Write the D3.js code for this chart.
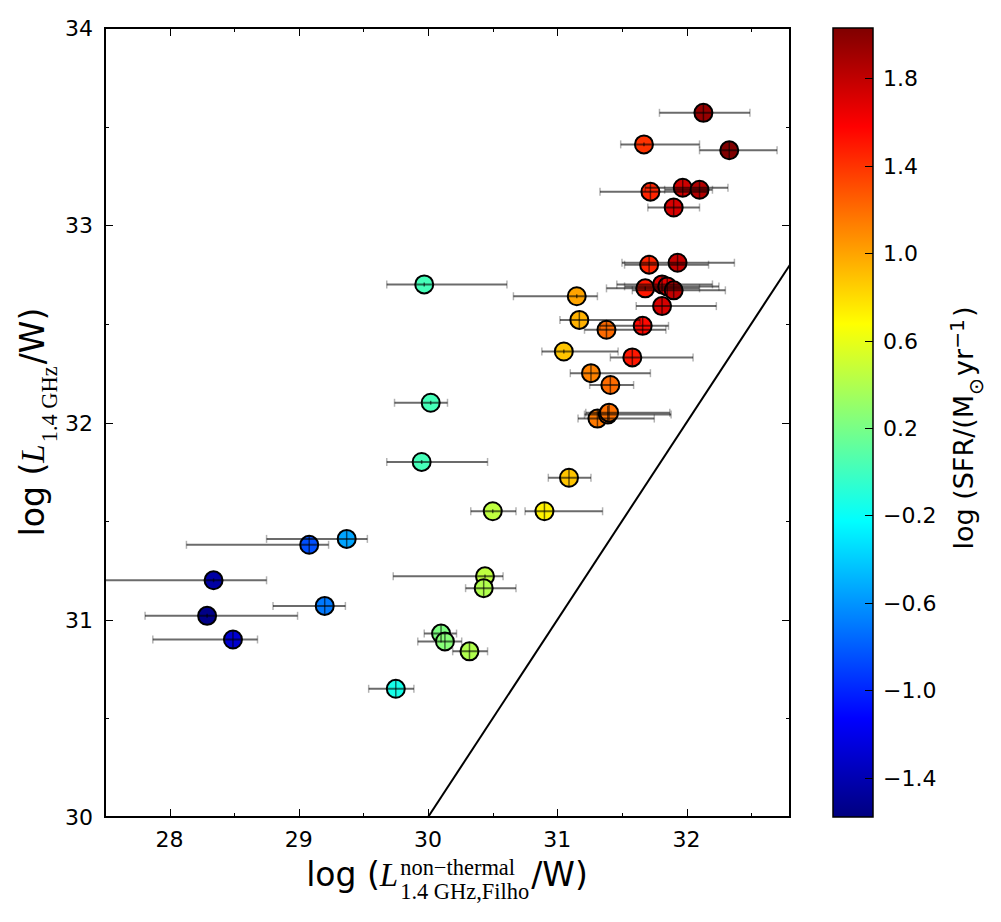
<!DOCTYPE html>
<html>
<head>
<meta charset="utf-8">
<script src="https://cdn.jsdelivr.net/npm/d3@7"></script>
<style>
  body { margin: 0; background: #fff; }
  svg text { font-family: "DejaVu Sans", sans-serif; }
</style>
</head>
<body>
<div id="chart"></div>
<script>
// data
var lumNT  = [32.13, 31.67, 32.33, 31.72, 31.97, 32.10, 31.90, 31.71, 31.93, 31.68, 31.81, 31.85, 31.90, 31.81,
              31.15, 31.17, 31.66, 31.38, 31.05, 31.58, 31.26, 31.41, 31.31, 31.39, 31.40, 31.09, 30.90, 30.50,
              30.44, 30.43, 30.10, 30.13, 30.32, 29.75, 29.97, 30.02, 29.95, 29.37, 29.08, 28.34, 29.20, 28.29, 28.49];
var lum14  = [33.57, 33.41, 33.38, 33.17, 33.19, 33.18, 33.09, 32.80, 32.81, 32.68, 32.70, 32.69, 32.67, 32.59,
              32.64, 32.52, 32.49, 32.47, 32.36, 32.33, 32.25, 32.19, 32.02, 32.04, 32.05, 31.72, 31.55, 31.55,
              31.22, 31.16, 30.93, 30.89, 30.84, 30.65, 32.70, 32.10, 31.80, 31.41, 31.38, 31.20, 31.07, 31.02, 30.90];
var errLo  = [31.79, 31.49, 32.10, 31.33, 31.68, 31.83, 31.70, 31.52, 31.50, 31.38, 31.46, 31.52, 31.58, 31.61,
              30.66, 31.02, 31.33, 31.21, 30.88, 31.41, 31.10, 31.25, 31.16, 31.21, 31.22, 30.93, 30.75, 30.33,
              29.73, 30.29, 29.97, 29.92, 30.19, 29.54, 29.68, 29.74, 29.68, 28.75, 28.13, 27.49, 28.80, 27.81, 27.87];
var errHi  = [32.49, 32.10, 32.70, 32.16, 32.32, 32.20, 32.10, 32.17, 32.37, 32.10, 32.20, 32.25, 32.30, 32.23,
              31.31, 31.64, 31.86, 31.84, 31.47, 32.05, 31.72, 31.59, 31.75, 31.88, 31.87, 31.26, 31.35, 30.68,
              30.58, 30.68, 30.22, 30.26, 30.46, 29.89, 30.61, 30.15, 30.46, 29.53, 29.23, 28.75, 29.36, 28.99, 28.68];
var yErr   = [0.045, 0.01, 0.045, 0.045, 0.045, 0.045, 0.045, 0.045, 0.045, 0.01, 0.045, 0.045, 0.045, 0.045,
              0.01, 0.045, 0.045, 0.045, 0.01, 0.045, 0.045, 0.045, 0.045, 0.045, 0.045, 0.045, 0.045, 0.01,
              0.01, 0.045, 0.045, 0.045, 0.045, 0.045, 0.01, 0.01, 0.01, 0.045, 0.045, 0.01, 0.045, 0.01, 0.045];
var logSFR = [1.95, 1.40, 2.03, 1.45, 1.75, 1.85, 1.72, 1.45, 1.78, 1.50, 1.70, 1.68, 1.80, 1.72,
              1.00, 0.95, 1.55, 1.20, 0.88, 1.50, 1.12, 1.20, 1.15, 1.20, 1.18, 0.88, 0.72, 0.45,
              0.45, 0.40, 0.22, 0.25, 0.40, -0.15, 0.02, 0.02, 0.02, -0.55, -0.85, -1.45, -0.70, -1.55, -1.30];

var oneToOne = [30, 32.8];
var xTicks = [28, 29, 30, 31, 32];
var yTicks = [30, 31, 32, 33, 34];
var cbTicks = [-1.4, -1.0, -0.6, -0.2, 0.2, 0.6, 1.0, 1.4, 1.8];

var svgWidth = 1001, svgHeight = 922;
var margin = {top: 28, left: 105};
var chartWidth = 685, chartHeight = 789;
var tickFont = 22;

var svg = d3.select("#chart").append("svg")
  .attr("width", svgWidth)
  .attr("height", svgHeight);

var xScale = d3.scaleLinear().domain([27.5, 32.8]).range([margin.left, margin.left + chartWidth]);
var yScale = d3.scaleLinear().domain([30, 34]).range([margin.top + chartHeight, margin.top]);
var cScale = d3.scaleLinear().domain([-1.58, 2.03]).range([0, 1]).clamp(true);

// matplotlib-like jet colormap
function jet(t) {
  var c = function(v) { return Math.max(0, Math.min(1, v)); };
  var r = c(1.5 - Math.abs(4 * t - 3)),
      g = c(1.5 - Math.abs(4 * t - 2)),
      b = c(1.5 - Math.abs(4 * t - 1));
  return d3.rgb(r * 255, g * 255, b * 255).toString();
}
var colorOf = function(v) { return jet(cScale(v)); };

var data = lumNT.map(function(x, i) {
  return {x: x, y: lum14[i], lo: errLo[i], hi: errHi[i], ye: yErr[i], c: logSFR[i]};
});

svg.append("clipPath").attr("id", "plotClip")
  .append("rect")
  .attr("x", margin.left).attr("y", margin.top)
  .attr("width", chartWidth).attr("height", chartHeight);

var plot = svg.append("g").attr("clip-path", "url(#plotClip)");

// 1:1 line
plot.append("line")
  .attr("x1", xScale(oneToOne[0])).attr("y1", yScale(oneToOne[0]))
  .attr("x2", xScale(oneToOne[1])).attr("y2", yScale(oneToOne[1]))
  .attr("stroke", "#000").attr("stroke-width", 2);

// points
plot.selectAll(".pt")
  .data(data)
  .enter()
  .append("circle")
  .attr("class", "pt")
  .attr("cx", function(d) { return xScale(d.x); })
  .attr("cy", function(d) { return yScale(d.y); })
  .attr("r", 9)
  .attr("fill", function(d) { return colorOf(d.c); })
  .attr("stroke", "#000")
  .attr("stroke-width", 2);

// error bars on top
var eb = plot.append("g");
eb.selectAll(".xe")
  .data(data).enter().append("line")
  .attr("x1", function(d) { return xScale(d.lo); })
  .attr("x2", function(d) { return xScale(d.hi); })
  .attr("y1", function(d) { return yScale(d.y); })
  .attr("y2", function(d) { return yScale(d.y); })
  .attr("stroke", "#000").attr("stroke-opacity", 0.58).attr("stroke-width", 2);
eb.selectAll(".ye")
  .data(data).enter().append("line")
  .attr("x1", function(d) { return xScale(d.x); })
  .attr("x2", function(d) { return xScale(d.x); })
  .attr("y1", function(d) { return yScale(d.y - d.ye); })
  .attr("y2", function(d) { return yScale(d.y + d.ye); })
  .attr("stroke", "#000").attr("stroke-opacity", 0.58).attr("stroke-width", 1.5);
["lo", "hi"].forEach(function(k) {
  eb.selectAll(".cap-" + k)
    .data(data).enter().append("line")
    .attr("x1", function(d) { return xScale(d[k]); })
    .attr("x2", function(d) { return xScale(d[k]); })
    .attr("y1", function(d) { return yScale(d.y) - 4; })
    .attr("y2", function(d) { return yScale(d.y) + 4; })
    .attr("stroke", "#000").attr("stroke-opacity", 0.3).attr("stroke-width", 1.5);
});

// ticks, inside on all four sides
var ticks = svg.append("g").attr("stroke", "#000").attr("stroke-width", 1);
d3.range(27.5, 32.81, 0.5).forEach(function(v) {
  var x = Math.round(xScale(v)) + 0.5, len = (v % 1 === 0) ? 8 : 4;
  ticks.append("line").attr("x1", x).attr("x2", x).attr("y1", margin.top + chartHeight).attr("y2", margin.top + chartHeight - len);
  ticks.append("line").attr("x1", x).attr("x2", x).attr("y1", margin.top).attr("y2", margin.top + len);
});
d3.range(30, 34.01, 0.5).forEach(function(v) {
  var y = Math.round(yScale(v)) + 0.5, len = (v % 1 === 0) ? 8 : 4;
  ticks.append("line").attr("y1", y).attr("y2", y).attr("x1", margin.left).attr("x2", margin.left + len);
  ticks.append("line").attr("y1", y).attr("y2", y).attr("x1", margin.left + chartWidth).attr("x2", margin.left + chartWidth - len);
});

svg.append("rect")
  .attr("x", margin.left).attr("y", margin.top)
  .attr("width", chartWidth).attr("height", chartHeight)
  .attr("fill", "none").attr("stroke", "#000").attr("stroke-width", 2);

// tick labels
svg.selectAll(".xl").data(xTicks).enter().append("text")
  .attr("x", function(d) { return xScale(d); })
  .attr("y", 847)
  .attr("text-anchor", "middle")
  .attr("font-size", tickFont)
  .text(function(d) { return d; });
svg.selectAll(".yl").data(yTicks).enter().append("text")
  .attr("x", margin.left - 12)
  .attr("y", function(d) { return yScale(d) + 8; })
  .attr("text-anchor", "end")
  .attr("font-size", tickFont)
  .text(function(d) { return d; });

// label builder: pieces laid out left to right, sub/sup stacked
function mathLabel(g, pieces, size) {
  var x = 0;
  pieces.forEach(function(p) {
    if (p.sub !== undefined || p.sup !== undefined) {
      var w = 0, s = size * (p.scale || 0.68);
      if (p.sup !== undefined) {
        var t1 = g.append("text").attr("x", x).attr("y", -size * 0.32)
          .attr("font-size", s).style("font-family", p.serif ? "Liberation Serif" : null).text(p.sup);
        w = Math.max(w, t1.node().getComputedTextLength());
      }
      if (p.sub !== undefined) {
        var t2 = g.append("text").attr("x", x).attr("y", size * 0.38)
          .attr("font-size", s).style("font-family", p.serif ? "Liberation Serif" : null).text(p.sub);
        w = Math.max(w, t2.node().getComputedTextLength());
      }
      x += w + 2;
    } else {
      var t = g.append("text").attr("x", x).attr("y", 0).attr("font-size", size).text(p.t);
      if (p.it) t.style("font-family", "Liberation Serif").style("font-style", "italic");
      x += t.node().getComputedTextLength() + (p.it ? 2 : 0);
    }
  });
  return x;
}

var xl = svg.append("g");
var xw = mathLabel(xl, [{t: "log ("}, {t: "L", it: true}, {sup: "non\u2212thermal", sub: "1.4 GHz,Filho", serif: true}, {t: "/W)"}], 33);
xl.attr("transform", "translate(" + (447 - xw / 2) + ",886)");

var yl = svg.append("g");
var yw = mathLabel(yl, [{t: "log ("}, {t: "L", it: true}, {sub: "1.4 GHz", serif: true}, {t: "/W)"}], 33);
yl.attr("transform", "translate(44," + (422 + yw / 2) + ") rotate(-90)");

// colorbar
var cbX = 833, cbW = 40;
var cbScale = d3.scaleLinear().domain([-1.58, 2.03]).range([margin.top + chartHeight, margin.top]);
var grad = svg.append("defs").append("linearGradient").attr("id", "jetGrad")
  .attr("x1", 0).attr("y1", 1).attr("x2", 0).attr("y2", 0);
d3.range(0, 1.0001, 1 / 64).forEach(function(t) {
  grad.append("stop").attr("offset", t).attr("stop-color", jet(t));
});
svg.append("rect")
  .attr("x", cbX).attr("y", margin.top)
  .attr("width", cbW).attr("height", chartHeight)
  .attr("fill", "url(#jetGrad)")
  .attr("stroke", "#000").attr("stroke-width", 1.5);
svg.selectAll(".cbt").data(cbTicks).enter().append("line")
  .attr("x1", cbX + cbW - 8).attr("x2", cbX + cbW)
  .attr("y1", function(d) { return Math.round(cbScale(d)) + 0.5; })
  .attr("y2", function(d) { return Math.round(cbScale(d)) + 0.5; })
  .attr("stroke", "#000");
svg.selectAll(".cbl").data(cbTicks).enter().append("text")
  .attr("x", cbX + cbW + 10)
  .attr("y", function(d) { return cbScale(d) + 8; })
  .attr("font-size", tickFont)
  .text(function(d) { return d3.format(".1f")(d); });

var cl = svg.append("g");
var cw = mathLabel(cl, [{t: "log (SFR/(M "}, {sub: "\u2299", scale: 0.75}, {t: "  yr"}, {sup: "\u22121", scale: 0.75}, {t: " )"}], 27);
cl.attr("transform", "translate(973," + (428 + cw / 2) + ") rotate(-90)");
</script>
</body>
</html>
